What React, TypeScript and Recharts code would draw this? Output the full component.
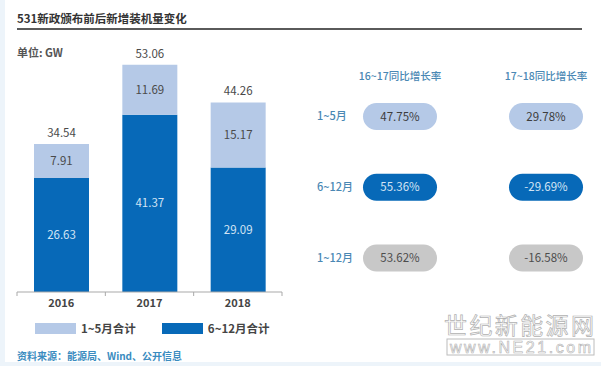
import React from 'react';
import { BarChart, Bar, XAxis, YAxis, LabelList, Legend, ScatterChart, Scatter } from 'recharts';

// ---- data ----
const years = ['2016', '2017', '2018'];
const janMay = [7.91, 11.69, 15.17];
const junDec = [26.63, 41.37, 29.09];
const totals = [34.54, 53.06, 44.26];
const seriesNames = ['1~5月合计', '6~12月合计'];

const growthColumns = ['16~17同比增长率', '17~18同比增长率'];
const growthRows = ['1~5月', '6~12月', '1~12月'];
const growth1617 = [47.75, 55.36, 53.62];
const growth1718 = [29.78, -29.69, -16.58];

// ---- styles ----
const FONT = '"Noto Sans CJK SC", "Noto Sans", sans-serif';
const LIGHT = '#b5c9e7';
const DARK = '#0769b8';
const GRAY = '#c8c8c8';
const AXIS = '#a9a9a9';
const pillStyles = [
  { fill: LIGHT, text: '#3d3d3d' },
  { fill: DARK, text: '#d3e4f4' },
  { fill: GRAY, text: '#4d4d4d' },
];

const barData = years.map((y, i) => ({ year: y, janMay: janMay[i], junDec: junDec[i], total: totals[i] }));
const growthPoints = growthRows.flatMap((_, ri) =>
  [growth1617[ri], growth1718[ri]].map((v, ci) => ({ col: ci, row: ri, value: v }))
);

const fmt = (v: any) => Number(v).toFixed(2);

const Pill = (props: any) => {
  const { cx, cy, payload } = props;
  const s = pillStyles[payload.row];
  return (
    <g>
      <rect x={cx - 37} y={cy - 13.5} width={74} height={27} rx={13.5} fill={s.fill} />
      <text x={cx} y={cy} dy="0.36em" textAnchor="middle" fontSize={11.5} fill={s.text} fontFamily={FONT}>
        {fmt(payload.value)}%
      </text>
    </g>
  );
};

const RowTick = (props: any) => {
  const { x, y, payload } = props;
  return (
    <text x={x} y={y} dy="0.36em" textAnchor="start" fontSize={11} fill="#4a88b4" fontFamily={FONT} fontWeight={500}>
      {growthRows[payload.value]}
    </text>
  );
};

const TICK_MARGIN = 7;
const YearTick = (props: any) => {
  const { x, y, payload, index, visibleTicksCount } = props;
  const half = payload && payload.offset ? payload.offset : 0;
  const axisY = y - TICK_MARGIN;
  const isLast = index === (visibleTicksCount ?? years.length) - 1;
  return (
    <g>
      <line x1={x - half} x2={x - half} y1={axisY} y2={axisY + 4} stroke={AXIS} />
      {isLast && <line x1={x + half} x2={x + half} y1={axisY} y2={axisY + 4} stroke={AXIS} />}
      <text x={x} y={y} dy="0.71em" textAnchor="middle" fontSize={11} fontWeight={600} fill="#444" fontFamily={FONT}>
        {payload.value}
      </text>
    </g>
  );
};

const legendColors = [LIGHT, DARK];

const LegendContent = () => (
  <div style={{ display: 'flex', alignItems: 'center', fontFamily: FONT }}>
    {seriesNames.map((n, i) => (
      <div key={n} style={{ display: 'flex', alignItems: 'center', marginRight: 26 }}>
        <div style={{ width: 41, height: 11, background: legendColors[i], marginRight: 5 }} />
        <span style={{ fontSize: 11.5, color: '#444', fontWeight: 600, lineHeight: '12px' }}>{n}</span>
      </div>
    ))}
  </div>
);

export default function App() {
  return (
    <div style={{ position: 'absolute', left: 0, top: 0, width: 601, height: 366, background: '#edf4fa', fontFamily: FONT, overflow: 'hidden' }}>
      <div style={{ position: 'absolute', left: 5, top: 0, width: 596, height: 362, background: '#ffffff' }} />
      <div style={{ position: 'absolute', left: 17, top: 11, fontSize: 11.5, lineHeight: '14px', fontWeight: 600, color: '#333' }}>
        531新政颁布前后新增装机量变化
      </div>
      <div style={{ position: 'absolute', left: 17, top: 28, width: 565, height: 2, background: '#5a5a5a' }} />
      <div style={{ position: 'absolute', left: 17, top: 45, fontSize: 11, lineHeight: '14px', fontWeight: 600, color: '#555' }}>
        单位: GW
      </div>
      <div style={{ position: 'absolute', left: 17, top: 349, fontSize: 10, lineHeight: '13px', fontWeight: 600, color: '#3b8cc0' }}>
        资料来源：能源局、Wind、公开信息
      </div>

      <div style={{ position: 'absolute', left: 0, top: 0 }}>
        <BarChart width={300} height={366} data={barData} margin={{ top: 35, right: 18, bottom: 44, left: 17 }} barSize={55}>
          <XAxis
            dataKey="year"
            height={30}
            axisLine={{ stroke: AXIS }}
            tickLine={false}
            tickSize={0}
            tickMargin={TICK_MARGIN}
            interval={0}
            tick={YearTick}
          />
          <YAxis hide domain={[0, 60]} />
          <Bar dataKey="junDec" name={seriesNames[1]} stackId="s" fill={DARK} isAnimationActive={false}>
            <LabelList dataKey="junDec" position="center" formatter={fmt} fill="#d3e4f4" fontSize={11.5} fontFamily={FONT} />
          </Bar>
          <Bar dataKey="janMay" name={seriesNames[0]} stackId="s" fill={LIGHT} isAnimationActive={false}>
            <LabelList dataKey="janMay" position="center" formatter={fmt} fill="#4a4a4a" fontSize={11.5} fontFamily={FONT} />
            <LabelList dataKey="total" position="top" offset={7} formatter={fmt} fill="#4a4a4a" fontSize={11.5} fontFamily={FONT} />
          </Bar>
          <Legend
            verticalAlign="middle"
            align="center"
            layout="horizontal"
            wrapperStyle={{ top: 322, left: 35, width: 265, height: 12 }}
            content={LegendContent}
          />
        </BarChart>
      </div>

      <div style={{ position: 'absolute', left: 0, top: 0 }}>
        <ScatterChart width={601} height={366} margin={{ top: 86.5, right: 55, bottom: 108, left: 317 }}>
          <XAxis
            orientation="top"
            type="number"
            dataKey="col"
            domain={[0, 1]}
            ticks={[0, 1]}
            interval={0}
            height={30}
            axisLine={false}
            tickLine={false}
            tickSize={0}
            tickMargin={37}
            tickFormatter={(v: any) => growthColumns[v]}
            tick={{ fill: '#4a88b4', fontSize: 10.5, fontWeight: 500, fontFamily: FONT }}
          />
          <YAxis
            type="number"
            dataKey="row"
            domain={[0, 2]}
            ticks={[0, 1, 2]}
            interval={0}
            reversed
            width={83}
            axisLine={false}
            tickLine={false}
            tickSize={0}
            tickMargin={83}
            tick={RowTick}
          />
          <Scatter data={growthPoints} shape={Pill} isAnimationActive={false} />
        </ScatterChart>
      </div>

      <svg width={601} height={366} style={{ position: 'absolute', left: 0, top: 0, pointerEvents: 'none' }}>
        <text x={444} y={334} fontSize={23} textLength={150} fontWeight={400} fill="#ffffff" stroke="#b0b0b0" strokeWidth={0.7} fontFamily={FONT}>
          世纪新能源网
        </text>
        <rect x={447} y={339} width={147} height={16} fill="none" stroke="#bcbcbc" strokeWidth={1} />
        <text x={450} y={353} fontSize={16} textLength={141} fill="#ffffff" stroke="#b0b0b0" strokeWidth={0.6} fontFamily="Liberation Sans, sans-serif">
          www.NE21.com
        </text>
      </svg>
    </div>
  );
}
